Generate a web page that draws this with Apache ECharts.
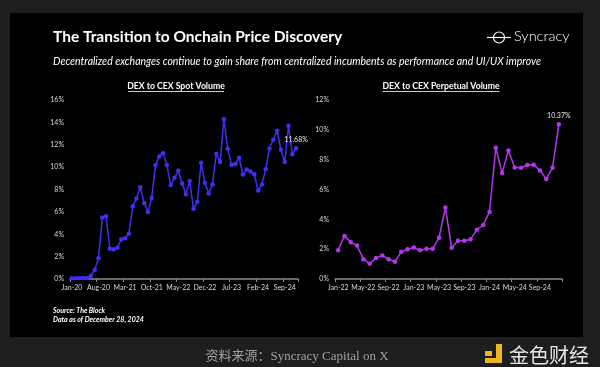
<!DOCTYPE html>
<html><head><meta charset="utf-8">
<script src="https://cdn.jsdelivr.net/npm/echarts@6/dist/echarts.min.js"></script>
<style>html,body{margin:0;padding:0;background:#1d1e20;}#c{width:600px;height:367px;}</style>
</head><body><div id="c"></div>
<script>
const spotCategories = [
 "Jan-20","Feb-20","Mar-20","Apr-20","May-20","Jun-20","Jul-20","Aug-20","Sep-20","Oct-20","Nov-20","Dec-20",
 "Jan-21","Feb-21","Mar-21","Apr-21","May-21","Jun-21","Jul-21","Aug-21","Sep-21","Oct-21","Nov-21","Dec-21",
 "Jan-22","Feb-22","Mar-22","Apr-22","May-22","Jun-22","Jul-22","Aug-22","Sep-22","Oct-22","Nov-22","Dec-22",
 "Jan-23","Feb-23","Mar-23","Apr-23","May-23","Jun-23","Jul-23","Aug-23","Sep-23","Oct-23","Nov-23","Dec-23",
 "Jan-24","Feb-24","Mar-24","Apr-24","May-24","Jun-24","Jul-24","Aug-24","Sep-24","Oct-24","Nov-24","Dec-24"];
const spotValues = [0.06,0.06,0.1,0.1,0.1,0.3,0.8,1.85,5.5,5.6,
 2.7,2.65,2.8,3.55,3.65,4.05,6.5,7.2,8.2,6.8,
 6.0,7.25,10.18,10.96,11.25,10.18,8.4,9.04,9.67,8.54,
 7.58,8.75,6.27,6.9,10.39,8.6,7.64,8.45,11.19,10.45,
 14.27,11.64,10.2,10.27,10.84,9.34,9.79,9.61,9.37,7.9,
 8.45,9.82,11.67,12.45,13.25,11.55,10.45,13.7,11.16,11.68];
const perpCategories = [
 "Jan-22","Feb-22","Mar-22","Apr-22","May-22","Jun-22","Jul-22","Aug-22","Sep-22","Oct-22","Nov-22","Dec-22",
 "Jan-23","Feb-23","Mar-23","Apr-23","May-23","Jun-23","Jul-23","Aug-23","Sep-23","Oct-23","Nov-23","Dec-23",
 "Jan-24","Feb-24","Mar-24","Apr-24","May-24","Jun-24","Jul-24","Aug-24","Sep-24","Oct-24","Nov-24","Dec-24"];
const perpValues = [1.93,2.89,2.47,2.24,1.33,1.02,1.4,1.58,1.33,1.16,
 1.82,2.0,2.11,1.93,2.02,2.02,2.76,4.8,2.09,2.56,
 2.56,2.67,3.31,3.62,4.49,8.8,7.1,8.62,7.48,7.46,
 7.64,7.66,7.28,6.7,7.46,10.37];
const spotTicks = [0,2,4,6,8,10,12,14,16];
const perpTicks = [0,2,4,6,8,10,12];

const spotColor = '#3f2ff2';
const perpColor = '#b236ec';
const FONT = 'Lato, "Open Sans", sans-serif';

function withLastLabel(vals){
  return vals.map((v,i)=> i===vals.length-1 ? {value:v,label:{show:true,position:'top',distance:3,formatter:v.toFixed(2)+'%',color:'#e6e6e6',fontSize:7,fontFamily:FONT}} : v);
}
function xAxis(idx, cats, labInt){
  return {type:'category', gridIndex:idx, data:cats, boundaryGap:true,
    axisLine:{lineStyle:{color:'#8a8a8a',width:1.5}},
    axisTick:{show:true,interval:labInt,length:3,lineStyle:{color:'#8a8a8a'}},
    axisLabel:{interval:labInt,color:'#d9d9d9',fontSize:7,margin:5,fontFamily:FONT}};
}
function yAxis(idx, ticks){
  return {type:'value', gridIndex:idx, min:ticks[0], max:ticks[ticks.length-1], interval:ticks[1]-ticks[0],
    splitLine:{show:false}, axisLine:{show:false}, axisTick:{show:false},
    axisLabel:{formatter:'{value}%',color:'#d9d9d9',fontSize:7,margin:6,fontFamily:FONT}};
}
function series(idx, vals, color){
  return {type:'line', xAxisIndex:idx, yAxisIndex:idx, data:withLastLabel(vals),
    symbol:'circle', symbolSize:4.5, showSymbol:true, showAllSymbol:true,
    lineStyle:{color:color,width:1.5}, itemStyle:{color:color},
    labelLayout:{hideOverlap:false}, animation:false};
}

const chart = echarts.init(document.getElementById('c'));
chart.setOption({
  backgroundColor:'#1d1e20',
  animation:false,
  grid:[{left:70,right:302,top:100,bottom:88},{left:335,right:38,top:100,bottom:88}],
  xAxis:[xAxis(0,spotCategories,6), xAxis(1,perpCategories,3)],
  yAxis:[yAxis(0,spotTicks), yAxis(1,perpTicks)],
  series:[series(0,spotValues,spotColor), series(1,perpValues,perpColor)],
  graphic:[
    {type:'rect',z:-10,shape:{x:10,y:13,width:573,height:324},style:{fill:'#000'}},
    {type:'text',left:53,top:29,style:{text:'The Transition to Onchain Price Discovery',fill:'#fff',font:'bold 15.5px '+FONT}},
    {type:'text',left:53,top:56,style:{text:'Decentralized exchanges continue to gain share from centralized incumbents as performance and UI/UX improve',fill:'#fff',font:'italic 10.5px '+FONT}},
    {type:'circle',shape:{cx:499,cy:37.5,r:5.5},style:{fill:'none',stroke:'#fff',lineWidth:1.2}},
    {type:'line',shape:{x1:487,y1:37.5,x2:511,y2:37.5},style:{stroke:'#fff',lineWidth:1.2}},
    {type:'text',left:514,top:29,style:{text:'Syncracy',fill:'#fff',font:'300 14.5px '+FONT}},
    {type:'text',x:176,y:86,style:{text:'DEX to CEX Spot Volume',fill:'#fff',font:'bold 8.7px '+FONT,align:'center',verticalAlign:'middle'}},
    {type:'line',shape:{x1:128,y1:91.5,x2:224,y2:91.5},style:{stroke:'#fff',lineWidth:0.8}},
    {type:'text',x:441,y:86,style:{text:'DEX to CEX Perpetual Volume',fill:'#fff',font:'bold 8.7px '+FONT,align:'center',verticalAlign:'middle'}},
    {type:'line',shape:{x1:382.5,y1:91.5,x2:499.5,y2:91.5},style:{stroke:'#fff',lineWidth:0.8}},
    {type:'text',left:53,top:307,style:{text:'Source: The Block',fill:'#fff',font:'italic bold 7px '+FONT}},
    {type:'text',left:53,top:316,style:{text:'Data as of December 28, 2024',fill:'#fff',font:'italic bold 7px '+FONT}},
    {type:'text',x:297,y:357,style:{text:'资料来源：Syncracy Capital on X',fill:'#a0a0a0',font:'13px "Liberation Serif", "Noto Sans CJK SC", serif',align:'center',verticalAlign:'middle'}},
    {type:'rect',shape:{x:485,y:351,width:7,height:5},style:{fill:'#f2b41f'}},
    {type:'rect',shape:{x:496,y:344,width:6,height:19},style:{fill:'#f2b41f'}},
    {type:'rect',shape:{x:485,y:358,width:17,height:5},style:{fill:'#f2b41f'}},
    {type:'text',left:509,top:345,style:{text:'金色财经',fill:'#e6e6e6',font:'20px "Noto Sans CJK SC", sans-serif'}}
  ]
});
</script></body></html>
